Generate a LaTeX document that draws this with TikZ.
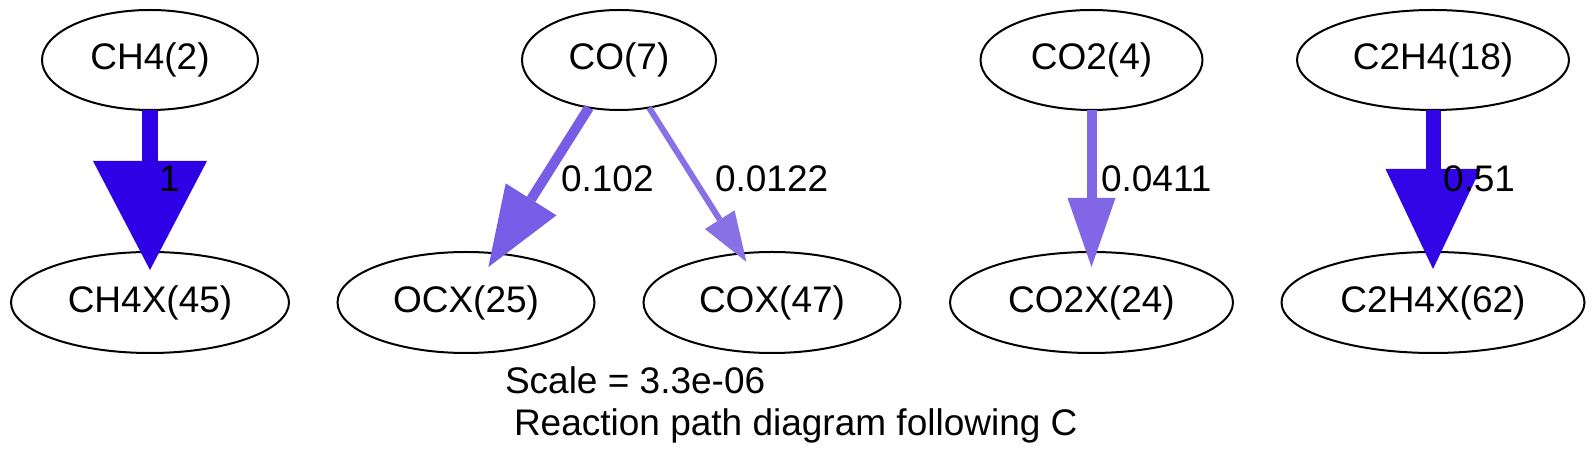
\documentclass[tikz,border=0pt]{standalone}
\usepackage{fontspec}
\setmainfont{Liberation Sans}
\usetikzlibrary{arrows.meta,shapes.geometric}
\definecolor{fluxA}{hsb}{0.7,1,0.9}
\definecolor{fluxB}{hsb}{0.7,0.98,0.9}
\definecolor{fluxOCX}{hsb}{0.7,0.6,0.9}
\definecolor{fluxCOX}{hsb}{0.7,0.51,0.9}
\definecolor{fluxCOtwo}{hsb}{0.7,0.55,0.9}
\begin{document}
\begin{tikzpicture}[x=0.5pt,y=-0.5pt,
  every node/.style={font=\fontsize{18.5}{22}\selectfont, inner sep=0pt, outer sep=0pt},
  species/.style={ellipse, draw=black, line width=1pt, minimum height=50pt},
  lbl/.style={anchor=base west}]
\useasboundingbox (0,0) rectangle (1596,469);
% species
\node[species, minimum width=108pt] (ch4) at (150,60) {CH4(2)};
\node[species, minimum width=139pt, minimum height=50.5pt] (ch4x) at (150,302.5) {CH4X(45)};
\node[species, minimum width=97pt] (co) at (619,60) {CO(7)};
\node[species, minimum width=128.5pt, minimum height=50.5pt] (ocx) at (466,302.5) {OCX(25)};
\node[species, minimum width=128.5pt, minimum height=50.5pt] (cox) at (772,302.5) {COX(47)};
\node[species, minimum width=111pt] (co2) at (1091.5,60) {CO2(4)};
\node[species, minimum width=141.5pt, minimum height=50.5pt] (co2x) at (1091.5,302.5) {CO2X(24)};
\node[species, minimum width=136pt] (c2h4) at (1433,60) {C2H4(18)};
\node[species, minimum width=151.5pt, minimum height=50.5pt] (c2h4x) at (1433,302.5) {C2H4X(62)};
% fluxes
\draw[fluxA, line width=8pt, -{Triangle[length=54.5pt,width=57pt,line width=0pt]}, shorten >=-9pt] (ch4) -- (ch4x);
\draw[fluxOCX, line width=5pt, -{Triangle[length=40pt,width=30pt,line width=0pt]}, shorten >=-8pt] (co) -- (ocx);
\draw[fluxCOX, line width=3pt, -{Triangle[length=25pt,width=17.5pt,line width=0pt]}, shorten >=-5pt] (co) -- (cox);
\draw[fluxCOtwo, line width=5pt, -{Triangle[length=34.5pt,width=24pt,line width=0pt]}, shorten >=-7.5pt] (co2) -- (co2x);
\draw[fluxB, line width=7.5pt, -{Triangle[length=50pt,width=47.5pt,line width=0pt]}, shorten >=-8.5pt] (c2h4) -- (c2h4x);
% flux labels
\node[lbl] (l1) at (159,192) {1};
\node[lbl] (l2) at (561,192) {0.102};
\node[lbl] (l3) at (715,192) {0.0122};
\node[lbl] (l4) at (1101,192) {0.0411};
\node[lbl] (l5) at (1443,192) {0.51};
% caption
\node[lbl] (cap1) at (505,394) {Scale = 3.3e-06};
\node[lbl] (cap2) at (514,436) {Reaction path diagram following C};
\end{tikzpicture}
\end{document}
